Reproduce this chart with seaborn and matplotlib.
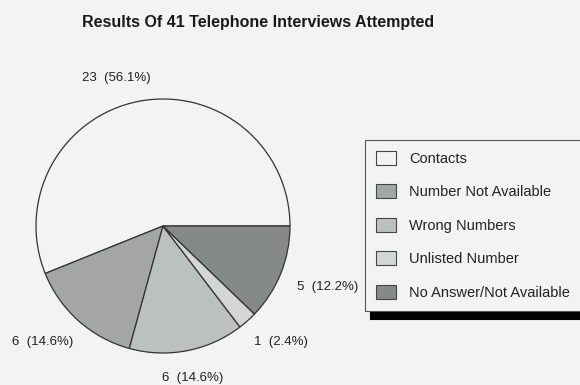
import matplotlib
matplotlib.use("Agg")
import matplotlib.pyplot as plt
import seaborn as sns
from matplotlib.patches import Patch

# ---- data ----
categories = ["Contacts", "Number Not Available", "Wrong Numbers",
              "Unlisted Number", "No Answer/Not Available"]
counts = [23, 6, 6, 1, 5]
title = "Results Of 41 Telephone Interviews Attempted"

# ---- style ----
sns.set_theme(style="white")
plt.rcParams["font.family"] = ["Liberation Sans", "DejaVu Sans"]

bg = "#f3f3f3"
slice_colors = ["#f3f3f3", "#a4a6a5", "#bcc0bf", "#d4d6d5", "#858988"]
# label positions (in pie-radius units), layout only
label_pos = [(-0.37, 1.165), (-0.95, -0.91), (0.236, -1.197),
             (0.93, -0.91), (1.30, -0.48)]

fig = plt.figure(figsize=(5.8, 3.85), dpi=100, facecolor=bg)
ax = fig.add_axes([0.00076, 0.00065, 0.5868, 0.8412])
ax.set_facecolor(bg)

total = sum(counts)
labels = [f"{c}  ({c / total * 100:.1f}%)" for c in counts]

wedges, texts = ax.pie(
    counts, colors=slice_colors, startangle=0, counterclock=True,
    labels=labels, labeldistance=1.2,
    wedgeprops=dict(edgecolor="#333333", linewidth=0.9),
    textprops=dict(fontsize=9.5, color="#222222"),
)
for t, (px, py) in zip(texts, label_pos):
    t.set_position((px, py))
    t.set_ha("center")
    t.set_va("center")

ax.set_aspect("auto")
ax.set_xlim(-1.28, 1.40)
ax.set_ylim(-1.25, 1.30)
ax.axis("off")

fig.text(0.445, 1 - 22 / 385, title, ha="center", va="center",
         fontsize=11.5, fontweight="bold", color="#1a1a1a")

handles = [Patch(facecolor=col, edgecolor="#444444", linewidth=0.8)
           for col in slice_colors]
leg = fig.legend(
    handles, categories, loc="upper left",
    bbox_to_anchor=(365 / 580, 1 - 140 / 385),
    frameon=True, fancybox=False, fontsize=10.5,
    handlelength=1.37, handleheight=1.1, handletextpad=0.9,
    labelspacing=1.27, borderpad=0.75, borderaxespad=0.0,
    facecolor=bg, edgecolor="#555555",
    shadow={"ox": 3.6, "oy": -5.8, "facecolor": "black",
            "edgecolor": "black", "alpha": 1.0},
)
leg.get_frame().set_linewidth(0.8)
leg.get_frame().set_alpha(1.0)
for txt in leg.get_texts():
    txt.set_color("#222222")

fig.savefig("out.png", dpi=100, facecolor=bg)
